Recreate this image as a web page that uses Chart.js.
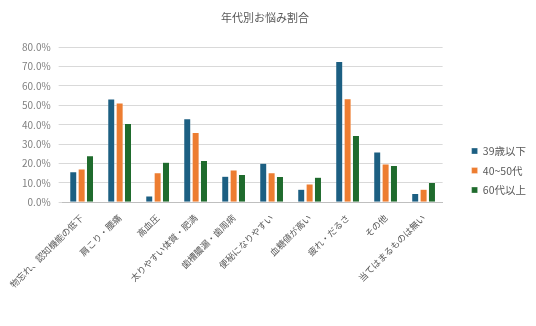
<!DOCTYPE html>
<html lang="ja">
<head>
<meta charset="utf-8">
<script src="https://cdn.jsdelivr.net/npm/chart.js@4/dist/chart.umd.min.js"></script>
<style>
  html, body { margin: 0; padding: 0; background: #fff; }
  #wrap { width: 536px; height: 326px; }
</style>
</head>
<body>
<div id="wrap"><canvas id="worryChart"></canvas></div>
<script>
// 年代別お悩み割合 (%)
const categories = [
  '物忘れ、認知機能の低下', '肩こり・腰痛', '高血圧', '太りやすい体質・肥満', '歯槽膿漏・歯周病',
  '便秘になりやすい', '血糖値が高い', '疲れ・だるさ', 'その他', '当てはまるものは無い'
];
const under39 = [15.7, 53.3, 3.3, 43.1, 13.4, 20.2, 6.7, 72.6, 26.0, 4.5];
const age40to50 = [17.2, 51.2, 15.2, 36.0, 16.6, 15.3, 9.5, 53.4, 19.8, 6.7];
const over60 = [24.0, 40.7, 20.7, 21.6, 14.3, 13.3, 12.9, 34.5, 19.0, 10.2];
const seriesNames = ['39歳以下', '40~50代', '60代以上'];
const yTicks = [0, 10, 20, 30, 40, 50, 60, 70, 80];

const jpFont = '"Noto Sans CJK JP", "Noto Sans", sans-serif';
Chart.defaults.font.family = jpFont;
Chart.defaults.color = '#595959';

// keep the legend next to the bottom of the plot instead of the canvas bottom
const legendPlacement = {
    id: 'legendPlacement',
    afterLayout(chart) {
        const lg = chart.legend;
        const h = lg.bottom - lg.top;
        lg.bottom = chart.chartArea.bottom + 2;
        lg.top = lg.bottom - h;
        lg.left += 20;
        lg.right += 20;
    }
};

const ctx = document.getElementById('worryChart').getContext('2d');

const worryChart = new Chart(ctx, {
    type: 'bar',
    data: {
        labels: categories,
        datasets: [
            { label: seriesNames[0], data: under39, backgroundColor: '#1c5f82' },
            { label: seriesNames[1], data: age40to50, backgroundColor: '#ed7d31' },
            { label: seriesNames[2], data: over60, backgroundColor: '#1f6b2d' }
        ].map(ds => Object.assign(ds, {
            borderColor: 'rgba(255,255,255,0.6)',
            borderWidth: 0.5,
            barPercentage: 0.84,
            categoryPercentage: 0.66
        }))
    },
    plugins: [legendPlacement],
    options: {
        responsive: true,
        maintainAspectRatio: false,
        animation: false,
        layout: {
            padding: { left: 14, right: 20, top: 4, bottom: 34 }
        },
        scales: {
            y: {
                min: yTicks[0],
                max: yTicks[yTicks.length - 1],
                afterBuildTicks: axis => { axis.ticks = yTicks.map(v => ({ value: v })); },
                ticks: {
                    color: '#7f7f7f',
                    font: { size: 10 },
                    padding: 8,
                    callback: v => v.toFixed(1) + '%'
                },
                grid: { color: '#d9d9d9', tickLength: 4 },
                border: { display: false }
            },
            x: {
                ticks: {
                    color: '#595959',
                    font: { size: 9 },
                    minRotation: 45,
                    maxRotation: 45,
                    autoSkip: false,
                    padding: 2
                },
                grid: { display: false },
                border: { color: '#bfbfbf' }
            }
        },
        plugins: {
            title: {
                display: true,
                text: '年代別お悩み割合',
                color: '#595959',
                font: { size: 11, weight: 'normal' },
                padding: { top: 7, bottom: 23 }
            },
            legend: {
                display: true,
                position: 'right',
                align: 'end',
                labels: {
                    boxWidth: 6,
                    boxHeight: 6,
                    padding: 9,
                    color: '#595959',
                    font: { size: 10.5 }
                }
            },
            tooltip: { enabled: true }
        }
    }
});
</script>
</body>
</html>
